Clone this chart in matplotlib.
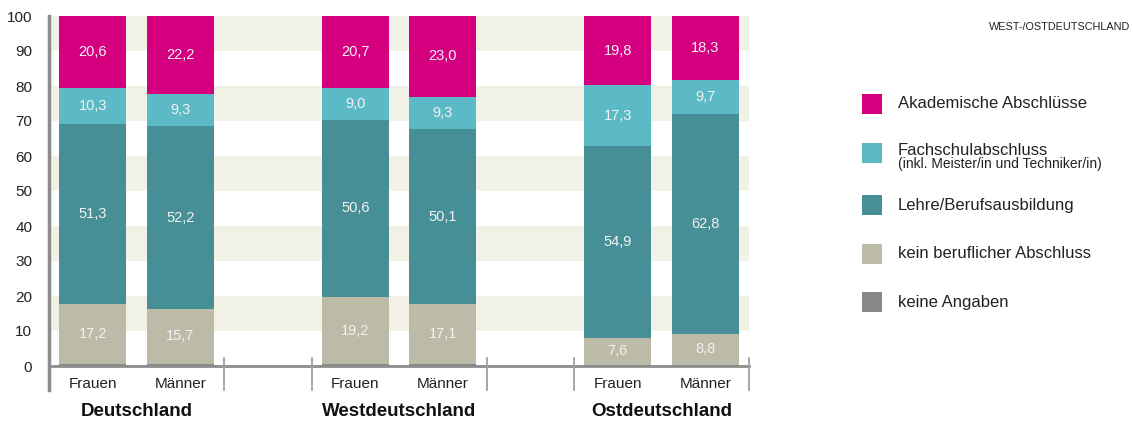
import numpy as np
import matplotlib.pyplot as plt

groups = ['Deutschland', 'Westdeutschland', 'Ostdeutschland']
sexes = ['Frauen', 'Männer']

# bar order: D Frauen, D Männer, W Frauen, W Männer, O Frauen, O Männer
keine_angaben = [0.6, 0.6, 0.5, 0.5, 0.4, 0.4]
kein_abschluss = [17.2, 15.7, 19.2, 17.1, 7.6, 8.8]
lehre = [51.3, 52.2, 50.6, 50.1, 54.9, 62.8]
fachschule = [10.3, 9.3, 9.0, 9.3, 17.3, 9.7]
akademisch = [20.6, 22.2, 20.7, 23.0, 19.8, 18.3]

series = [keine_angaben, kein_abschluss, lehre, fachschule, akademisch]
colors = ['#878787', '#bbbba7', '#468f96', '#5bbac5', '#d5007f']

legend_labels = ['Akademische Abschlüsse', 'Fachschulabschluss', 'Lehre/Berufsausbildung',
                 'kein beruflicher Abschluss', 'keine Angaben']
legend_colors = ['#d5007f', '#5bbac5', '#468f96', '#bbbba7', '#878787']

plt.rcParams['font.family'] = ['Liberation Sans', 'DejaVu Sans']
narrow = ['Liberation Sans Narrow', 'Liberation Sans', 'DejaVu Sans']

fig = plt.figure(figsize=(11.33, 4.21), dpi=100)
ax = fig.add_axes([49 / 1133, 55 / 421, 700 / 1133, 350 / 421])

# x positions: groups of width 2 separated by gap of 1
x = []
for g in range(3):
    x += [g * 3 + 0.5, g * 3 + 1.5]
x = np.array(x)

# background stripes
for lo in range(10, 100, 20):
    ax.axhspan(lo, lo + 10, color='#f2f1e6', lw=0, zorder=0)

bottom = np.zeros(6)
for i, vals in enumerate(series):
    vals = np.array(vals)
    ax.bar(x, vals, bottom=bottom, width=0.766, color=colors[i], lw=0, zorder=2)
    if i > 0:
        for xi, b, v in zip(x, bottom, vals):
            ax.text(xi, b + v / 2, f'{v:.1f}'.replace('.', ','), ha='center', va='center',
                    color='#f2f2f2', fontsize=10.5, zorder=3)
    bottom += vals

ax.set_xlim(0, 8)
ax.set_ylim(0, 100)
ax.set_yticks(range(0, 101, 10))
ax.tick_params(axis='y', length=0, pad=12, labelsize=11, labelcolor='#222222')
ax.set_xticks([])
for s in ax.spines.values():
    s.set_visible(False)

trans = ax.get_xaxis_transform()
# bottom axis line
ax.plot([0, 8], [0, 0], transform=trans, color='#8c8c8c', lw=2, clip_on=False, zorder=4)
# left spine
ax.plot([0, 0], [1, -0.069], transform=trans, color='#8c8c8c', lw=2.5, clip_on=False, zorder=4)
# group separators
for sx in [2, 3, 5, 6, 8]:
    ax.plot([sx, sx], [0.023, -0.069], transform=trans, color='#a0a0a0', lw=1.3,
            clip_on=False, zorder=4)

for xi, lab in zip(x, sexes * 3):
    ax.text(xi, -0.05, lab, transform=trans, ha='center', va='center', fontsize=11,
            color='#222222')
for g, lab in enumerate(groups):
    ax.text(g * 3 + 1, -0.13, lab, transform=trans, ha='center', va='center', fontsize=13.5,
            fontweight='bold', color='#111111')

# legend
leg_y = [104, 153, 205, 254, 302]
for yy, lab, c in zip(leg_y, legend_labels, legend_colors):
    fig.patches.append(plt.Rectangle((862 / 1133, 1 - (yy + 10) / 421), 20 / 1133, 20 / 421,
                                     transform=fig.transFigure, color=c, lw=0))
    if lab == 'Fachschulabschluss':
        fig.text(898 / 1133, 1 - (yy - 3) / 421, lab, fontsize=12, family=narrow,
                 va='center', color='#222222')
        fig.text(898 / 1133, 1 - (yy + 11) / 421, '(inkl. Meister/in und Techniker/in)',
                 fontsize=10, family=narrow, va='center', color='#222222')
    else:
        fig.text(898 / 1133, 1 - yy / 421, lab, fontsize=12, family=narrow,
                 va='center', color='#222222')

fig.text(1130 / 1133, 1 - 27 / 421, 'WEST-/OSTDEUTSCHLAND', fontsize=7.8, family=narrow,
         ha='right', va='center', color='#222222')

fig.savefig('out.png', dpi=100)
